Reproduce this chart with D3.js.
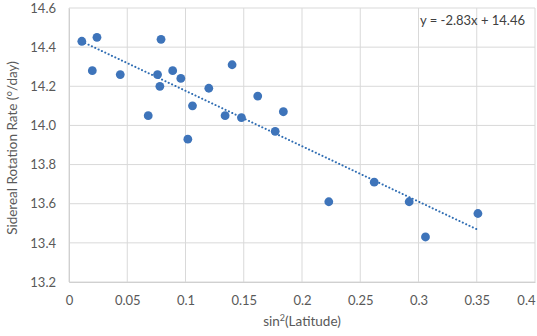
<!DOCTYPE html>
<html>
<head>
<meta charset="utf-8">
<script src="https://cdn.jsdelivr.net/npm/d3@7"></script>
<style>
  body { margin: 0; background: #fff; }
  svg { display: block; font-family: Lato, "Open Sans", sans-serif; }
</style>
</head>
<body>
<script>
// sin^2(latitude) vs sidereal rotation rate
var sinSq = [0.011, 0.024, 0.020, 0.044, 0.068, 0.079, 0.076, 0.078, 0.089, 0.096,
             0.106, 0.102, 0.120, 0.134, 0.140, 0.148, 0.162, 0.184, 0.177, 0.223,
             0.262, 0.292, 0.306, 0.351];
var rate = [14.43, 14.45, 14.28, 14.26, 14.05, 14.44, 14.26, 14.20, 14.28, 14.24,
            14.10, 13.93, 14.19, 14.05, 14.31, 14.04, 14.15, 14.07, 13.97, 13.61,
            13.71, 13.61, 13.43, 13.55];
var xTicks = [0, 0.05, 0.1, 0.15, 0.2, 0.25, 0.3, 0.35, 0.4];
var yTicks = [13.2, 13.4, 13.6, 13.8, 14.0, 14.2, 14.4, 14.6];
var slope = -2.83, intercept = 14.46;

var w = 537, h = 336;
var margin = {top: 8, right: 2, bottom: 54, left: 69};

var svg = d3.select('body')
  .append('svg')
  .attr('width', w)
  .attr('height', h);

var x = d3.scaleLinear()
  .domain([0, 0.4])
  .range([margin.left, w - margin.right]);

var y = d3.scaleLinear()
  .domain([13.2, 14.6])
  .range([h - margin.bottom, margin.top]);

var textColor = '#595959';

// gridlines
svg.append('g')
  .selectAll('line.v')
  .data(xTicks)
  .join('line')
    .attr('x1', d => x(d)).attr('x2', d => x(d))
    .attr('y1', y(13.2)).attr('y2', y(14.6))
    .attr('stroke', '#d9d9d9')
    .attr('stroke-width', 1);

svg.append('g')
  .selectAll('line.h')
  .data(yTicks)
  .join('line')
    .attr('x1', x(0)).attr('x2', x(0.4))
    .attr('y1', d => y(d)).attr('y2', d => y(d))
    .attr('stroke', '#d9d9d9')
    .attr('stroke-width', 1);

// axes (labels only)
var xAxis = svg.append('g')
  .attr('transform', 'translate(0,' + y(13.2) + ')')
  .call(d3.axisBottom(x).tickValues(xTicks).tickSize(0).tickPadding(14)
    .tickFormat(d => String(d)));
var yAxis = svg.append('g')
  .attr('transform', 'translate(' + x(0) + ',0)')
  .call(d3.axisLeft(y).tickValues(yTicks).tickSize(0).tickPadding(13)
    .tickFormat(d3.format('.1f')));

[xAxis, yAxis].forEach(function(a) {
  a.select('.domain').attr('stroke', '#d0d0d0');
  a.selectAll('text')
    .attr('fill', textColor)
    .style('font-size', '13px')
    .style('font-family', 'Lato, "Open Sans", sans-serif');
});

// last x label pulled inside the canvas
xAxis.selectAll('.tick')
  .filter(d => d === 0.4)
  .select('text')
    .attr('text-anchor', 'end')
    .attr('dx', 0);

// trendline
var xr = d3.extent(sinSq);
svg.append('line')
  .attr('x1', x(xr[0])).attr('y1', y(slope * xr[0] + intercept))
  .attr('x2', x(xr[1])).attr('y2', y(slope * xr[1] + intercept))
  .attr('stroke', '#2f6db3')
  .attr('stroke-width', 2)
  .attr('stroke-linecap', 'round')
  .attr('stroke-dasharray', '0.1 3.6');

// points
svg.append('g')
  .selectAll('circle')
  .data(sinSq)
  .join('circle')
    .attr('cx', d => x(d))
    .attr('cy', (d, i) => y(rate[i]))
    .attr('r', 4.4)
    .attr('fill', '#3e74ba');

// equation
svg.append('text')
  .attr('x', 525)
  .attr('y', 25)
  .attr('text-anchor', 'end')
  .attr('fill', '#404040')
  .style('font-size', '13px')
  .text('y = -2.83x + 14.46');

// axis titles
var xt = svg.append('text')
  .attr('x', 302)
  .attr('y', 326)
  .attr('text-anchor', 'middle')
  .attr('fill', textColor)
  .style('font-size', '13.5px');
xt.append('tspan').text('sin');
xt.append('tspan').attr('dy', -5).style('font-size', '9px').text('2');
xt.append('tspan').attr('dy', 5).text('(Latitude)');

svg.append('text')
  .attr('transform', 'translate(17,' + (148) + ') rotate(-90)')
  .attr('text-anchor', 'middle')
  .attr('fill', textColor)
  .style('font-size', '13.5px')
  .text('Sidereal Rotation Rate (°/day)');
</script>
</body>
</html>
